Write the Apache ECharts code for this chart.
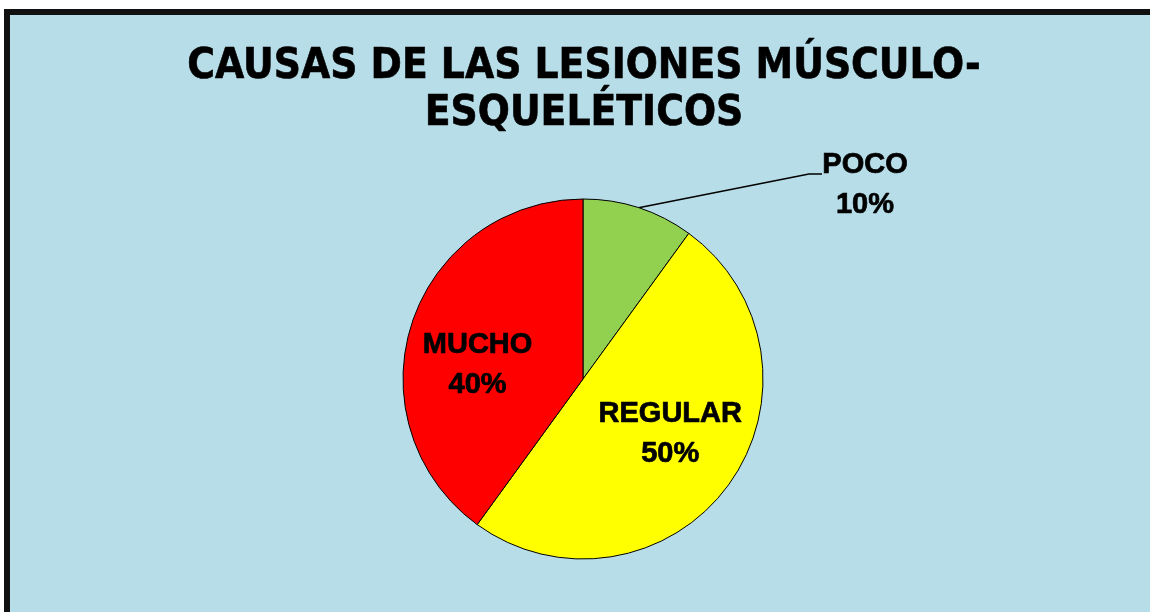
<!DOCTYPE html>
<html>
<head>
<meta charset="utf-8">
<script src="https://cdn.jsdelivr.net/npm/echarts@6/dist/echarts.min.js"></script>
<style>
  body { margin: 0; width: 1150px; height: 612px; overflow: hidden; background: #fff; }
  .frame {
    position: absolute; left: 4px; top: 9px;
    width: 1170px; height: 620px;
    border-left: 6px solid #111; border-top: 6px solid #111;
    background: #b7dde8;
  }
  #chart { position: absolute; left: 0; top: 0; width: 1148px; height: 597px; }
</style>
</head>
<body>
<div class="frame"><div id="chart"></div></div>
<script>
  // datos
  const categorias = ['POCO', 'REGULAR', 'MUCHO']
  const valores = [10, 50, 40]
  const colores = ['#92d050', '#ffff00', '#ff0000']

  let chart = echarts.init(document.getElementById('chart'))

  let datos = []
  for (let i = 0; i < categorias.length; i++) {
    datos.push({
      name: categorias[i],
      value: valores[i],
      itemStyle: { color: colores[i] },
      // la etiqueta de fuera lleva una linea vacia arriba para que la guia llegue a la base de "POCO"
      label: i === 0
        ? { position: 'outside', formatter: '{s| }\n{b}\n{d}%', rich: { s: { fontSize: 8, lineHeight: 22 } } }
        : { position: 'inside' },
      labelLine: { show: i === 0 }
    })
  }

  let option = {
    animation: false,
    title: {
      text: 'CAUSAS DE LAS LESIONES MÚSCULO-\nESQUELÉTICOS',
      left: 'center',
      top: 24,
      textStyle: {
        fontFamily: '"Liberation Sans Narrow", "DejaVu Sans Condensed", sans-serif',
        fontWeight: 'bold',
        fontSize: 42,
        lineHeight: 47,
        color: '#000',
        textBorderColor: '#000',
        textBorderWidth: 0.6
      }
    },
    series: [
      {
        type: 'pie',
        center: [573, 364],
        radius: 180,
        startAngle: 90,
        clockwise: true,
        data: datos,
        itemStyle: { borderColor: '#000', borderWidth: 1 },
        label: {
          formatter: '{b}\n{d}%',
          fontFamily: '"Liberation Sans", Arial, sans-serif',
          fontWeight: 'bold',
          fontSize: 29,
          lineHeight: 40,
          color: '#000',
          textBorderColor: '#000',
          textBorderWidth: 0.7,
          align: 'center'
        },
        labelLine: { lineStyle: { color: '#000', width: 1.5 }, length: 10, length2: 13 },
        labelLayout: function (p) {
          if (p.dataIndex === 0) {
            return { x: 855, y: 159, align: 'center', verticalAlign: 'middle' }
          }
          if (p.dataIndex === 2) {
            return { dx: -17, dy: 15 }
          }
          return { dx: 12, dy: 0 }
        }
      }
    ]
  }
  chart.setOption(option)
</script>
</body>
</html>
